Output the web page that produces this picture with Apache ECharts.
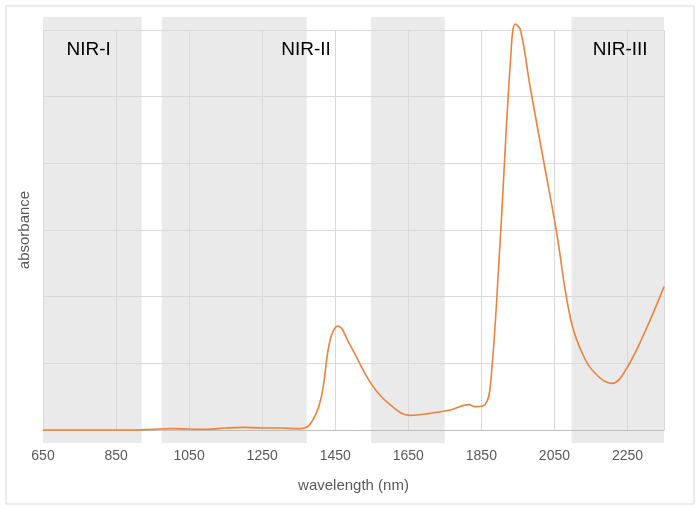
<!DOCTYPE html>
<html>
<head>
<script src="https://cdn.jsdelivr.net/npm/echarts@6/dist/echarts.min.js"></script>
</head>
<body style="margin:0">
<div id="chart" style="width:700px;height:510px;"></div>
<script>
const wavelength = [650, 900, 950, 1000, 1100, 1150, 1200, 1250, 1300, 1350, 1380, 1410, 1436, 1458, 1490, 1550, 1600, 1655, 1710, 1765, 1815, 1835, 1860, 1875, 1900, 1930, 1943, 1957, 1985, 2025, 2055, 2095, 2135, 2175, 2208, 2245, 2300, 2350];
const absorbance = [0, 0, 0.01, 0.02, 0.01, 0.03, 0.04, 0.03, 0.03, 0.02, 0.08, 0.45, 1.35, 1.56, 1.28, 0.68, 0.38, 0.22, 0.25, 0.3, 0.38, 0.35, 0.38, 0.68, 2.7, 5.56, 6.09, 6.0, 5.1, 3.9, 3.0, 1.65, 1.05, 0.78, 0.7, 0.9, 1.5, 2.15];
const bands = [[650, 920], [975, 1372], [1548, 1750], [2097, 2350]];
const bandLabels = [['NIR-I', 775], ['NIR-II', 1370], ['NIR-III', 2230]];

const chart = echarts.init(document.getElementById('chart'));
chart.setOption({
    animation: false,
    grid: { left: 43, right: 36, top: 30, bottom: 80 },
    xAxis: {
        type: 'value', min: 650, max: 2350, interval: 200,
        name: 'wavelength (nm)', nameLocation: 'middle', nameGap: 32,
        nameTextStyle: { color: '#595959', fontSize: 15, fontFamily: 'Liberation Sans' },
        axisLine: { lineStyle: { color: '#bfbfbf' } },
        axisTick: { show: false },
        axisLabel: { color: '#595959', fontSize: 14, fontFamily: 'Liberation Sans', margin: 14,
            formatter: v => v <= 2250 ? v : '' },
        splitLine: { lineStyle: { color: '#d9d9d9' } }
    },
    yAxis: {
        type: 'value', min: 0, max: 6, interval: 1,
        name: 'absorbance', nameLocation: 'middle', nameGap: 5,
        nameTextStyle: { color: '#595959', fontSize: 15, fontFamily: 'Liberation Sans' },
        axisLine: { show: false }, axisTick: { show: false }, axisLabel: { show: false },
        splitLine: { lineStyle: { color: '#d9d9d9' } }
    },
    series: [{
        type: 'line', smooth: 0.4, showSymbol: false, z: 5, clip: false,
        data: wavelength.map((w, i) => [w, absorbance[i]]),
        lineStyle: { color: '#E8843F', width: 1.6 }
    }]
});

function drawBands() {
    const els = [{ type: 'rect', shape: { x: 6, y: 6, width: 688, height: 498 },
        style: { fill: 'none', stroke: '#d9d9d9' }, silent: true }];
    bands.forEach(b => {
        const x0 = chart.convertToPixel({ gridIndex: 0 }, [b[0], 0])[0];
        const x1 = chart.convertToPixel({ gridIndex: 0 }, [b[1], 0])[0];
        els.push({ type: 'rect', shape: { x: x0, y: 17, width: x1 - x0, height: 426 },
            style: { fill: 'rgba(200,200,200,0.38)' }, z: -1, silent: true });
    });
    bandLabels.forEach(l => {
        const x = chart.convertToPixel({ gridIndex: 0 }, [l[1], 0])[0];
        els.push({ type: 'text', x: x, y: 50, z: 10,
            style: { text: l[0], fill: '#000', fontSize: 19, fontFamily: 'Liberation Sans', align: 'center', verticalAlign: 'middle' } });
    });
    chart.setOption({ graphic: els });
}
drawBands();
</script>
</body>
</html>
